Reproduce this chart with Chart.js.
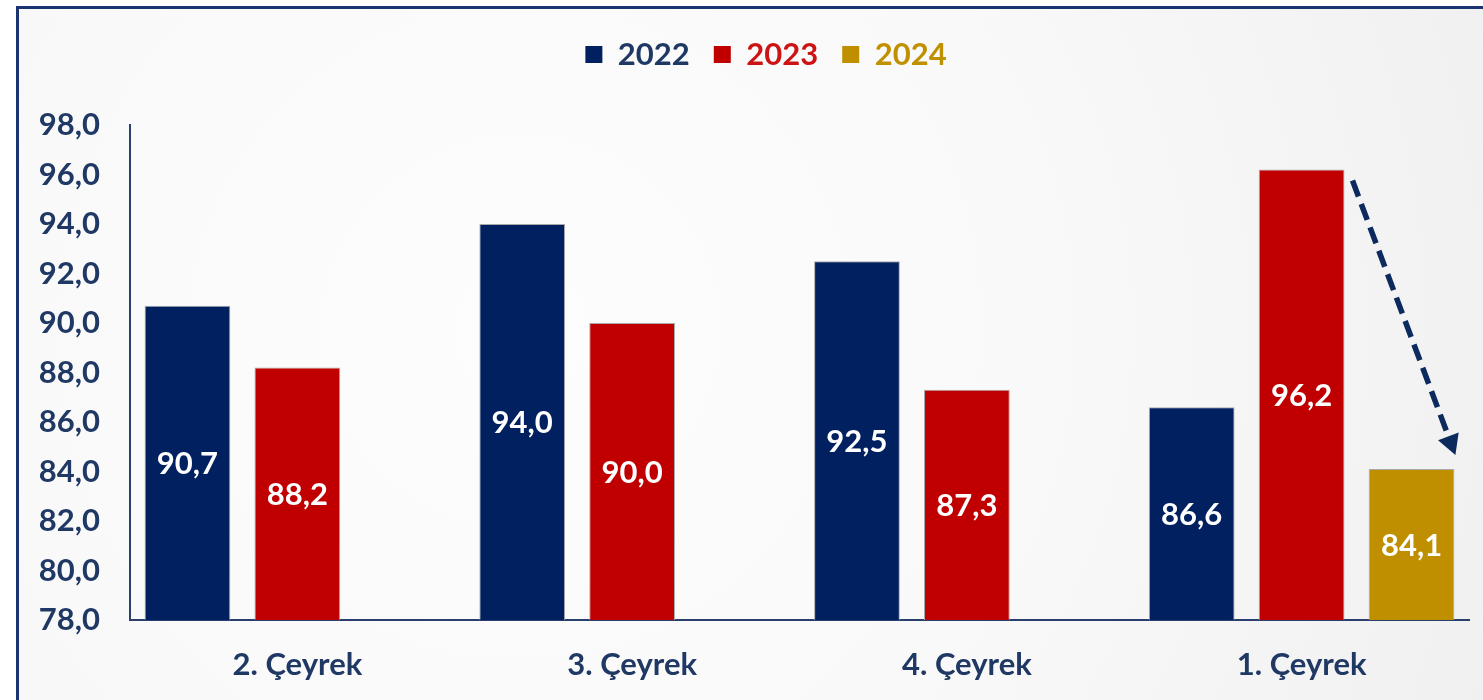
<!DOCTYPE html>
<html><head><meta charset="utf-8">
<script src="https://cdn.jsdelivr.net/npm/chart.js@4"></script>
<style>html,body{margin:0;padding:0;background:#fff;overflow:hidden}#wrap{width:1483px;height:700px;position:relative}</style>
</head><body><div id="wrap"><canvas id="c" width="1483" height="700"></canvas></div>
<script>
const categories = ['2. Çeyrek', '3. Çeyrek', '4. Çeyrek', '1. Çeyrek'];
const seriesNames = ['2022', '2023', '2024'];
const values2022 = [90.7, 94.0, 92.5, 86.6];
const values2023 = [88.2, 90.0, 87.3, 96.2];
const values2024 = [null, null, null, 84.1];
const yMin = 78, yMax = 98, yStep = 2;

const barColors = ['#002060', '#C00000', '#BF8F00'];
const legendTextColors = ['#1F3864', '#CC1414', '#BF9000'];
const navy = '#1F3864';
const FONT = 'Lato';
const FS = 31;

const fmt = v => v.toFixed(1).replace('.', ',');

const bgPlugin = {
  id: 'bg',
  beforeDraw(chart) {
    const ctx = chart.ctx, W = chart.width, H = chart.height;
    ctx.save();
    ctx.fillStyle = '#ffffff';
    ctx.fillRect(0, 0, W, H);
    const g = ctx.createRadialGradient(520, 330, 0, 520, 330, 1050);
    g.addColorStop(0, '#FDFDFD');
    g.addColorStop(0.5, '#F9F9F9');
    g.addColorStop(1, '#F0F0F0');
    ctx.fillStyle = g;
    ctx.fillRect(17, 7, W, H);
    ctx.strokeStyle = '#1B3470';
    ctx.lineWidth = 3;
    ctx.strokeRect(17.5, 7.5, W + 10, H + 10);
    ctx.restore();
  }
};

// give the legend extra room below it and centre it where the reference has it
const legendLayoutPlugin = {
  id: 'legendLayout',
  beforeLayout(chart) {
    const lg = chart.legend;
    if (lg && !lg._patched) {
      const orig = lg.fit.bind(lg);
      lg.fit = function () { orig(); this.height += 45; };
      lg._patched = true;
    }
  },
  afterLayout(chart) {
    const lg = chart.legend;
    if (!lg || !lg.lineWidths) return;
    const shift = 766 - (lg.left + lg.right) / 2;
    lg.left += shift;
    lg.right += shift;
  }
};

const labelPlugin = {
  id: 'barLabels',
  afterDatasetsDraw(chart) {
    const ctx = chart.ctx;
    const bottom = chart.chartArea.bottom;
    ctx.save();
    ctx.font = 'bold ' + FS + 'px ' + FONT;
    ctx.fillStyle = '#ffffff';
    ctx.textAlign = 'center';
    ctx.textBaseline = 'middle';
    chart.data.datasets.forEach((ds, di) => {
      const meta = chart.getDatasetMeta(di);
      meta.data.forEach((bar, i) => {
        const v = ds.data[i];
        if (v === null || v === undefined) return;
        const base = Math.min(bar.base, bottom);
        ctx.fillText(fmt(v), bar.x, (bar.y + base) / 2 + 1);
      });
    });
    ctx.restore();
  }
};

const arrowPlugin = {
  id: 'arrow',
  afterDatasetsDraw(chart) {
    const a = chart.getDatasetMeta(1).data[3];
    const b = chart.getDatasetMeta(2).data[3];
    if (!a || !b) return;
    const x1 = a.x + a.width / 2 + 8, y1 = a.y + 11;
    const x2 = b.x + b.width / 2 + 1, y2 = b.y - 14;
    const ang = Math.atan2(y2 - y1, x2 - x1);
    const headLen = 20, headW = 11;
    const lx = x2 - Math.cos(ang) * headLen, ly = y2 - Math.sin(ang) * headLen;
    const ctx = chart.ctx;
    ctx.save();
    ctx.strokeStyle = '#0D2A5E';
    ctx.fillStyle = '#0D2A5E';
    ctx.lineWidth = 5.5;
    ctx.setLineDash([17, 8]);
    ctx.beginPath();
    ctx.moveTo(x1, y1);
    ctx.lineTo(lx, ly);
    ctx.stroke();
    ctx.setLineDash([]);
    ctx.beginPath();
    ctx.moveTo(x2, y2);
    ctx.lineTo(lx + Math.sin(ang) * headW, ly - Math.cos(ang) * headW);
    ctx.lineTo(lx - Math.sin(ang) * headW, ly + Math.cos(ang) * headW);
    ctx.closePath();
    ctx.fill();
    ctx.restore();
  }
};

const seriesData = [values2022, values2023, values2024];

new Chart(document.getElementById('c'), {
  type: 'bar',
  data: {
    labels: categories,
    datasets: seriesNames.map((n, i) => ({
      label: n,
      data: seriesData[i],
      backgroundColor: barColors[i],
      borderColor: '#A9A9A9',
      borderWidth: 1,
      borderSkipped: 'bottom',
      categoryPercentage: 0.985,
      barPercentage: 0.78
    }))
  },
  options: {
    responsive: false,
    animation: false,
    devicePixelRatio: 1,
    layout: { padding: { top: 15, right: 14, bottom: 0, left: 0 } },
    plugins: {
      tooltip: { enabled: false },
      legend: {
        position: 'top',
        onClick: null,
        labels: {
          boxWidth: 17,
          boxHeight: 17,
          padding: 24,
          font: { family: FONT, weight: 'bold', size: FS },
          generateLabels(chart) {
            return chart.data.datasets.map((ds, i) => ({
              text: ds.label,
              fillStyle: ds.backgroundColor,
              strokeStyle: ds.backgroundColor,
              lineWidth: 0,
              fontColor: legendTextColors[i],
              hidden: false,
              datasetIndex: i
            }));
          }
        }
      }
    },
    scales: {
      x: {
        grid: { display: false, drawTicks: false },
        border: { display: true, color: '#2B3F6E', width: 2 },
        ticks: { color: navy, font: { family: FONT, weight: 'bold', size: FS }, padding: 26 },
        afterFit(s) { s.height = 80; }
      },
      y: {
        min: yMin, max: yMax,
        grid: { display: false, drawTicks: false },
        border: { display: true, color: '#2B3F6E', width: 2 },
        ticks: {
          stepSize: yStep,
          color: navy,
          font: { family: FONT, weight: 'bold', size: FS },
          padding: 30,
          callback: v => fmt(v)
        },
        afterFit(s) { s.width = 130; }
      }
    }
  },
  plugins: [bgPlugin, legendLayoutPlugin, labelPlugin, arrowPlugin]
});
</script>
</body></html>
